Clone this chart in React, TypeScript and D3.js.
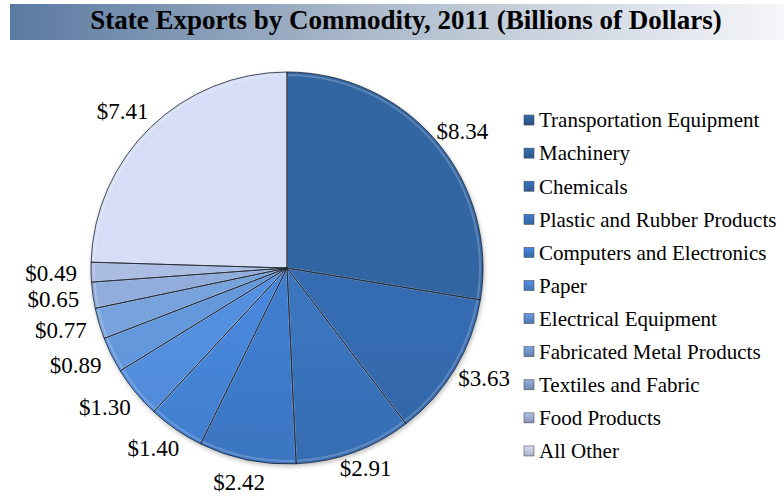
import React, { useEffect, useRef } from 'react';
import * as d3 from 'd3';

const categories = [
  'Transportation Equipment',
  'Machinery',
  'Chemicals',
  'Plastic and Rubber Products',
  'Computers and Electronics',
  'Paper',
  'Electrical Equipment',
  'Fabricated Metal Products',
  'Textiles and Fabric',
  'Food Products',
  'All Other',
];
const values = [8.34, 3.63, 2.91, 2.42, 1.4, 1.3, 0.89, 0.77, 0.65, 0.49, 7.41];
const colors = [
  '#2c5a90', '#2f5f9c', '#3366a8', '#386eb6', '#3e76c0', '#4a7fc6',
  '#5886c3', '#6a8fc1', '#8099c1', '#97a7c8', '#bcc4d9',
];

const W = 784;
const H = 497;
const SERIF = '"Liberation Serif", "Times New Roman", Times, serif';

const App: React.FC = () => {
  const svgRef = useRef<SVGSVGElement>(null);

  useEffect(() => {
    if (!svgRef.current) return;
    const svg = d3.select(svgRef.current);
    svg.selectAll('*').remove();

    const defs = svg.append('defs');
    const cx = 287, cy = 268, r = 196;

    // title band
    const tg = defs.append('linearGradient').attr('id', 'titleGrad')
      .attr('x1', '0%').attr('x2', '100%').attr('y1', '0%').attr('y2', '0%');
    tg.append('stop').attr('offset', '0%').attr('stop-color', '#5a7aa1');
    tg.append('stop').attr('offset', '45%').attr('stop-color', '#aab8ca');
    tg.append('stop').attr('offset', '100%').attr('stop-color', '#f5f6f9');

    svg.append('rect')
      .attr('x', 10).attr('y', 4).attr('width', W - 10).attr('height', 36)
      .attr('fill', 'url(#titleGrad)');
    svg.append('text')
      .attr('x', 406).attr('y', 29)
      .attr('text-anchor', 'middle')
      .style('font-family', SERIF)
      .style('font-weight', 'bold')
      .style('font-size', '27px')
      .attr('fill', '#000')
      .text('State Exports by Commodity, 2011 (Billions of Dollars)');

    // slice gradients (top lighter, bottom darker)
    colors.forEach((c, i) => {
      const g = defs.append('linearGradient').attr('id', `sg${i}`)
        .attr('gradientUnits', 'userSpaceOnUse')
        .attr('x1', 0).attr('x2', 0).attr('y1', cy - r).attr('y2', cy + r);
      g.append('stop').attr('offset', '0%').attr('stop-color', d3.color(c)!.brighter(0.35).formatHex());
      g.append('stop').attr('offset', '100%').attr('stop-color', d3.color(c)!.darker(0.3).formatHex());
    });

    const f = defs.append('filter').attr('id', 'shadow')
      .attr('x', '-10%').attr('y', '-10%').attr('width', '120%').attr('height', '120%');
    f.append('feGaussianBlur').attr('in', 'SourceAlpha').attr('stdDeviation', 2.5);
    f.append('feOffset').attr('dx', 1).attr('dy', 2).attr('result', 'b');
    f.append('feComponentTransfer').append('feFuncA').attr('type', 'linear').attr('slope', 0.3);
    const m = f.append('feMerge');
    m.append('feMergeNode');
    m.append('feMergeNode').attr('in', 'SourceGraphic');

    const pie = d3.pie<number>().sort(null).value(d => d);
    const arcs = pie(values);
    const arc = d3.arc<d3.PieArcDatum<number>>().innerRadius(0).outerRadius(r);
    const inner = d3.arc<d3.PieArcDatum<number>>().innerRadius(0).outerRadius(r - 3);

    const g = svg.append('g').attr('transform', `translate(${cx},${cy})`);
    g.append('g').attr('filter', 'url(#shadow)')
      .selectAll('path')
      .data(arcs)
      .enter()
      .append('path')
      .attr('d', arc)
      .attr('fill', (_, i) => `url(#sg${i})`);

    // bevel highlight inside each slice
    g.selectAll('path.hl')
      .data(arcs)
      .enter()
      .append('path')
      .attr('class', 'hl')
      .attr('d', inner)
      .attr('fill', 'none')
      .attr('stroke', '#ffffff')
      .attr('stroke-opacity', 0.2)
      .attr('stroke-width', 2);

    // dark slice borders
    g.selectAll('path.bd')
      .data(arcs)
      .enter()
      .append('path')
      .attr('class', 'bd')
      .attr('d', arc)
      .attr('fill', 'none')
      .attr('stroke', '#1f2633')
      .attr('stroke-opacity', 0.8)
      .attr('stroke-width', 1);

    // labels: anchored just outside the rim, pushed out by their own size
    const fmt = d3.format('.2f');
    const labels = g.selectAll('text.lbl')
      .data(arcs)
      .enter()
      .append('text')
      .attr('class', 'lbl')
      .attr('text-anchor', 'middle')
      .attr('dy', '0.35em')
      .style('font-family', SERIF)
      .style('font-size', '23px')
      .attr('fill', '#000')
      .text(d => `$${fmt(d.data)}`);
    labels.each(function (d) {
      const a = (d.startAngle + d.endAngle) / 2;
      const w = (this as SVGTextElement).getComputedTextLength();
      const h = 17;
      const R = Math.sin(a) > 0 ? r + 8 : r + 14;
      const x = Math.sin(a) * R + Math.sin(a) * w / 2;
      const y = -Math.cos(a) * R - Math.cos(a) * h / 2;
      d3.select(this).attr('x', x).attr('y', y);
    });

    // legend
    colors.forEach((c, i) => {
      const lg = defs.append('linearGradient').attr('id', `lg${i}`)
        .attr('x1', 0).attr('x2', 0).attr('y1', 0).attr('y2', 1);
      lg.append('stop').attr('offset', '0%').attr('stop-color', d3.color(c)!.brighter(0.4).formatHex());
      lg.append('stop').attr('offset', '100%').attr('stop-color', d3.color(c)!.darker(0.3).formatHex());
    });
    const ly = d3.scaleBand<number>().domain(d3.range(categories.length)).range([103.5, 467.5]);
    const items = svg.append('g').selectAll('g.item')
      .data(categories)
      .enter()
      .append('g')
      .attr('class', 'item')
      .attr('transform', (_, i) => `translate(524,${ly(i)! + ly.bandwidth() / 2})`);
    items.append('rect')
      .attr('x', 0).attr('y', -5).attr('width', 10).attr('height', 10)
      .attr('fill', (_, i) => `url(#lg${i})`)
      .attr('stroke', '#4a4f5a')
      .attr('stroke-width', 0.6);
    items.append('text')
      .attr('x', 15)
      .attr('dy', '0.35em')
      .style('font-family', SERIF)
      .style('font-size', '21px')
      .attr('fill', '#000')
      .text(d => d);
  }, []);

  return (
    <svg ref={svgRef} width={W} height={H}
      style={{ position: 'absolute', left: 0, top: 0, background: '#fff' }} />
  );
};

export default App;
